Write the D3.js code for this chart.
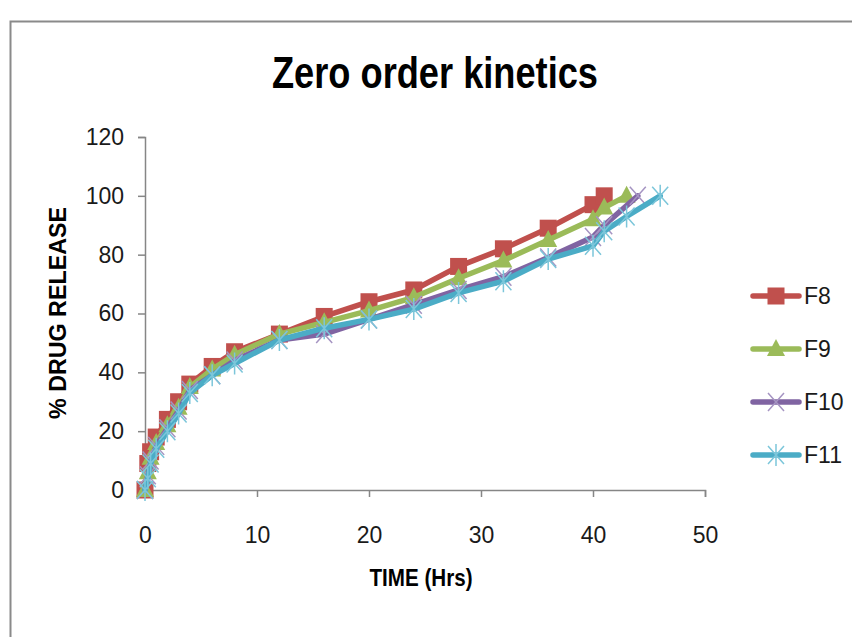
<!DOCTYPE html>
<html>
<head>
<meta charset="utf-8">
<script src="https://cdn.jsdelivr.net/npm/d3@7"></script>
<style>
  body { margin: 0; background: #fff; }
  #chart { width: 852px; height: 637px; }
</style>
</head>
<body>
<div id="chart"></div>
<script>
// times (hrs) and % drug release
let timeF8  = [0, 0.25, 0.5, 1, 2, 3, 4, 6, 8, 12, 16, 20, 24, 28, 32, 36, 40, 41];
let valF8   = [0, 9, 13, 18, 24, 30, 36, 42, 47, 53, 59, 64, 68, 76, 82, 89, 97, 100];
let timeF9  = [0, 0.25, 0.5, 1, 2, 3, 4, 6, 8, 12, 16, 20, 24, 28, 32, 36, 40, 41, 43];
let valF9   = [0, 6, 11, 16, 22, 28, 35, 41, 46, 53, 57, 61, 65.5, 72, 78, 85, 92, 96, 100];
let timeF10 = [0, 0.25, 0.5, 1, 2, 3, 4, 6, 8, 12, 16, 20, 24, 28, 32, 36, 40, 41, 44];
let valF10  = [0, 5, 10, 15, 21, 27, 34, 39, 44, 51, 53, 58, 63, 68, 72.5, 79, 86, 90, 100];
let timeF11 = [0, 0.25, 0.5, 1, 2, 3, 4, 6, 8, 12, 16, 20, 24, 28, 32, 36, 40, 41, 43, 46];
let valF11  = [0, 4, 9, 14, 20, 26, 33, 39, 43, 51, 55, 58, 61.5, 67, 71, 78.5, 83, 88, 93, 100];

let seriesNames = ["F8", "F9", "F10", "F11"];
let xTicks = [0, 10, 20, 30, 40, 50];
let yTicks = [0, 20, 40, 60, 80, 100, 120];

let seriesList = [
  {name: "F8",  times: timeF8,  values: valF8,  color: "#C0504D", marker: "square"},
  {name: "F9",  times: timeF9,  values: valF9,  color: "#9BBB59", marker: "triangle"},
  {name: "F10", times: timeF10, values: valF10, color: "#8064A2", marker: "x"},
  {name: "F11", times: timeF11, values: valF11, color: "#4BACC6", marker: "star"}
];

let svgWidth = 852, svgHeight = 637;
let plot = {left: 145, right: 705, top: 137, bottom: 490};
let axisColor = "#868686";
let numFont = "'Liberation Sans', Arial, sans-serif";

let svg = d3.select("#chart").append("svg")
  .attr("width", svgWidth)
  .attr("height", svgHeight);

// outer chart border
svg.append("rect")
  .attr("x", 10.5).attr("y", 21.5)
  .attr("width", 900).attr("height", 700)
  .attr("fill", "#fff")
  .attr("stroke", "#8a8a8a")
  .attr("stroke-width", 2);

let x = d3.scaleLinear().domain([0, 50]).range([plot.left, plot.right]);
let y = d3.scaleLinear().domain([0, 120]).range([plot.bottom, plot.top]);

// title
svg.append("text")
  .attr("x", 435).attr("y", 88)
  .attr("text-anchor", "middle")
  .attr("font-family", numFont)
  .attr("font-weight", "700")
  .attr("font-size", "45px")
  .attr("textLength", 326)
  .attr("lengthAdjust", "spacingAndGlyphs")
  .attr("fill", "#000")
  .text("Zero order kinetics");

// axes
let xAxis = svg.append("g")
  .attr("transform", `translate(0,${plot.bottom})`)
  .call(d3.axisBottom(x).tickValues(xTicks).tickSize(7).tickPadding(30));
let yAxis = svg.append("g")
  .attr("transform", `translate(${plot.left},0)`)
  .call(d3.axisLeft(y).tickValues(yTicks).tickSize(7).tickPadding(14));

[xAxis, yAxis].forEach(function(ax) {
  ax.select(".domain").attr("stroke", axisColor).attr("stroke-width", 1.5);
  ax.selectAll(".tick line").attr("stroke", axisColor).attr("stroke-width", 1.5);
  ax.selectAll(".tick text")
    .attr("font-family", numFont)
    .attr("font-size", "23px")
    .attr("fill", "#1a1a1a");
});

// axis titles
svg.append("text")
  .attr("x", 421).attr("y", 586)
  .attr("text-anchor", "middle")
  .attr("font-family", numFont)
  .attr("font-weight", "700")
  .attr("font-size", "24px")
  .attr("textLength", 103)
  .attr("lengthAdjust", "spacingAndGlyphs")
  .text("TIME (Hrs)");

svg.append("text")
  .attr("transform", "translate(66,313) rotate(-90)")
  .attr("text-anchor", "middle")
  .attr("font-family", numFont)
  .attr("font-weight", "700")
  .attr("font-size", "23px")
  .attr("textLength", 212)
  .attr("lengthAdjust", "spacingAndGlyphs")
  .text("% DRUG RELEASE");

function drawMarker(g, type, color, cx, cy) {
  if (type === "square") {
    g.append("rect")
      .attr("x", cx - 8.5).attr("y", cy - 8.5)
      .attr("width", 17).attr("height", 17)
      .attr("fill", color);
  } else if (type === "triangle") {
    g.append("path")
      .attr("d", `M${cx},${cy - 10} L${cx + 9},${cy + 7} L${cx - 9},${cy + 7} Z`)
      .attr("fill", color);
  } else if (type === "x") {
    g.append("path")
      .attr("d", `M${cx - 8},${cy - 9} L${cx + 8},${cy + 9} M${cx + 8},${cy - 9} L${cx - 8},${cy + 9}`)
      .attr("stroke", "#A594C2")
      .attr("stroke-width", 1.5);
  } else {
    g.append("path")
      .attr("d", `M${cx - 8},${cy - 9} L${cx + 8},${cy + 9} M${cx + 8},${cy - 9} L${cx - 8},${cy + 9} M${cx},${cy - 11} L${cx},${cy + 11}`)
      .attr("stroke", "#7CC6DA")
      .attr("stroke-width", 1.5);
  }
}

let line = d3.line()
  .x(function(d) { return x(d.t); })
  .y(function(d) { return y(d.v); });

seriesList.forEach(function(s) {
  let pts = s.times.map(function(t, i) { return {t: t, v: s.values[i]}; });
  let g = svg.append("g").attr("class", "series-" + s.name);
  g.append("path")
    .datum(pts)
    .attr("d", line)
    .attr("fill", "none")
    .attr("stroke", s.color)
    .attr("stroke-width", 5.5)
    .attr("stroke-linejoin", "round")
    .attr("stroke-linecap", "round");
  pts.forEach(function(p) {
    drawMarker(g, s.marker, s.color, x(p.t), y(p.v));
  });
});

// legend
let legendY = [296, 349, 402, 455];
let legend = svg.append("g");
seriesList.forEach(function(s, i) {
  let ly = legendY[i];
  legend.append("line")
    .attr("x1", 753).attr("x2", 799)
    .attr("y1", ly).attr("y2", ly)
    .attr("stroke", s.color)
    .attr("stroke-width", 5.5)
    .attr("stroke-linecap", "round");
  drawMarker(legend, s.marker, s.color, 776, ly);
  legend.append("text")
    .attr("x", 804).attr("y", ly + 8)
    .attr("font-family", numFont)
    .attr("font-size", "23px")
    .attr("fill", "#1a1a1a")
    .text(seriesNames[i]);
});
</script>
</body>
</html>
